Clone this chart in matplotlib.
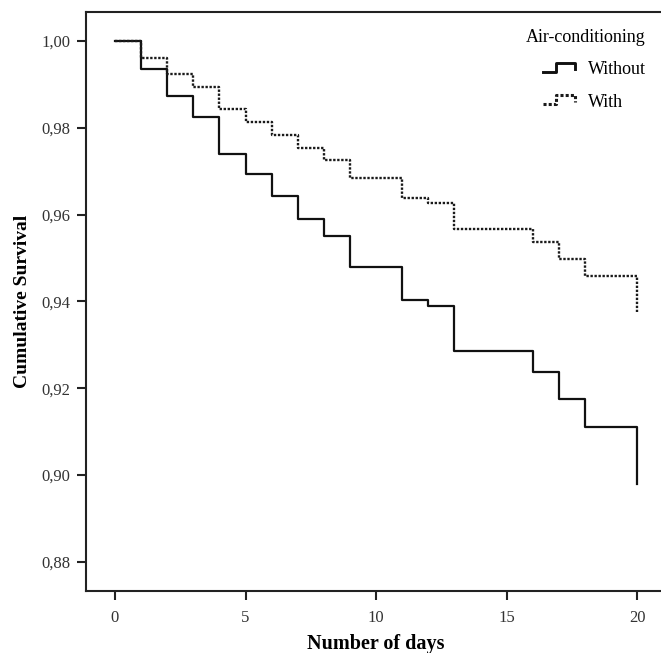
import matplotlib
matplotlib.use("Agg")
import matplotlib.pyplot as plt
from matplotlib.lines import Line2D
from matplotlib.legend_handler import HandlerBase

plt.rcParams["font.family"] = ["Liberation Serif", "DejaVu Serif"]

# Kaplan-Meier steps
days = [0, 1, 2, 3, 4, 5, 6, 7, 8, 9, 11, 12, 13, 16, 17, 18, 20]
surv_without = [1.000, 0.9935, 0.9873, 0.9826, 0.9740, 0.9693, 0.9643, 0.9591, 0.9551,
                0.9480, 0.9403, 0.9389, 0.9286, 0.9237, 0.9175, 0.9111, 0.8979]
surv_with = [1.000, 0.9960, 0.9925, 0.9894, 0.9843, 0.9813, 0.9784, 0.9753, 0.9727,
             0.9685, 0.9639, 0.9628, 0.9567, 0.9536, 0.9499, 0.9459, 0.9375]
labels = ["Without", "With"]
legend_title = "Air-conditioning"
yticks = [0.88, 0.90, 0.92, 0.94, 0.96, 0.98, 1.00]
xticks = [0, 5, 10, 15, 20]


class StepHandler(HandlerBase):
    """Small step-shaped legend key, like SPSS draws."""
    def create_artists(self, legend, orig_handle, xdescent, ydescent,
                       width, height, fontsize, trans):
        x0, w, h = -xdescent, width, height
        xs = [x0, x0 + 0.4 * w, x0 + 0.4 * w, x0 + w, x0 + w]
        ys = [0.2 * h, 0.2 * h, 0.9 * h, 0.9 * h, 0.4 * h]
        ys = [y - ydescent for y in ys]
        line = Line2D(xs, ys)
        line.update_from(orig_handle)
        line.set_linewidth(orig_handle.get_linewidth() + 0.5)
        line.set_transform(trans)
        return [line]


fig = plt.figure(figsize=(6.61, 6.53), dpi=100)
ax = fig.add_axes([0.1301, 0.0950, 0.876, 0.8866])

l1, = ax.step(days, surv_without, where="post", color="#111111", lw=1.6, label=labels[0])
l2, = ax.step(days, surv_with, where="post", color="#1a1a1a", lw=1.7,
              linestyle=(0, (1, 0.7)), label=labels[1])

ax.set_xlim(-1.11, 21.07)
ax.set_ylim(0.8733, 1.0067)
ax.set_xticks(xticks)
ax.set_xticklabels([str(x) for x in xticks])
ax.set_yticks(yticks)
ax.set_yticklabels([f"{y:.2f}".replace(".", ",") for y in yticks])

for s in ax.spines.values():
    s.set_linewidth(1.5)
    s.set_color("#222222")
ax.spines["right"].set_visible(False)
ax.tick_params(direction="out", length=6.5, width=1.5, colors="#222222",
               labelsize=12, labelcolor="#333333", pad=5)
ax.tick_params(axis="x", pad=7)

ax.set_xlabel("Number of days", fontsize=14.5, fontweight="bold", labelpad=6)
ax.set_ylabel("Cumulative Survival", fontsize=14, fontweight="bold", labelpad=7)

leg = ax.legend(handles=[l1, l2], title=legend_title, loc="upper right",
                bbox_to_anchor=(0.979, 0.983), borderaxespad=0.0, frameon=False,
                fontsize=13, title_fontsize=13, handlelength=1.75, handletextpad=0.7,
                labelspacing=0.85, handler_map={Line2D: StepHandler()})
leg._legend_box.align = "right"

fig.savefig("out.png", dpi=100)
